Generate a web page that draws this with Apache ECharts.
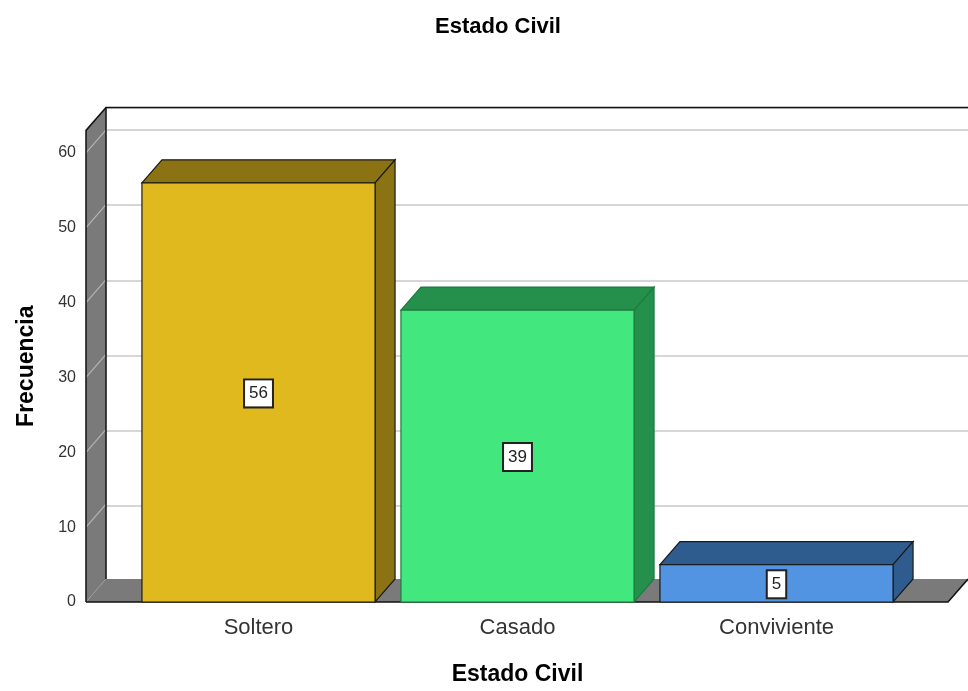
<!DOCTYPE html>
<html>
<head>
<meta charset="utf-8">
<script src="https://cdn.jsdelivr.net/npm/echarts@6/dist/echarts.min.js"></script>
<style>html,body{margin:0;padding:0;background:#fff}#c{width:968px;height:691px}</style>
</head>
<body>
<div id="c"></div>
<script>
// ---- data ----
const categories = ['Soltero', 'Casado', 'Conviviente'];
const frequencies = [56, 39, 5];
const yTicks = [0, 10, 20, 30, 40, 50, 60];
const chartTitle = 'Estado Civil';
const xTitle = 'Estado Civil';
const yTitle = 'Frecuencia';

// ---- styles ----
const FONT = "'Liberation Sans', Arial, sans-serif";
const frontColors = ['#E0B91F', '#42E87D', '#5294E2'];
const darkColors = ['#8B7314', '#25904C', '#2F5C8F'];
const edgeColors = ['#1a1a1a', '#1E7A40', '#1a1a1a'];
const DX = 20, DY = 23;           // depth offset of the 3D box
const YMAX = 63;
const WALL = '#7A7A7A';

const chart = echarts.init(document.getElementById('c'), null, {renderer: 'canvas'});

const option = {
  animation: false,
  backgroundColor: '#fff',
  title: {
    text: chartTitle, left: 493, top: 11, textAlign: 'center',
    textStyle: {fontFamily: FONT, fontSize: 22, fontWeight: 'bold', color: '#000'}
  },
  grid: [
    {left: 129, right: 62, top: 130.4, bottom: 87},        // front plane (bars)
    {left: 106, right: 0, top: 107.4, bottom: 110}         // back wall (gridlines)
  ],
  xAxis: [
    {
      type: 'category', gridIndex: 0, data: categories,
      axisLine: {show: false}, axisTick: {show: false},
      axisLabel: {fontFamily: FONT, fontSize: 22, color: '#333', margin: 15},
      name: xTitle, nameLocation: 'middle', nameGap: 61,
      nameTextStyle: {fontFamily: FONT, fontSize: 23, fontWeight: 'bold', color: '#000'}
    },
    {type: 'category', gridIndex: 1, data: categories, show: false}
  ],
  yAxis: [
    {
      type: 'value', gridIndex: 0, min: 0, max: YMAX, interval: 10, offset: 43,
      axisLine: {show: false}, axisTick: {show: false}, splitLine: {show: false},
      axisLabel: {fontFamily: FONT, fontSize: 16, color: '#333', margin: 10, showMaxLabel: false,
        formatter: v => (yTicks.indexOf(v) >= 0 ? String(v) : '')},
      name: yTitle, nameLocation: 'middle', nameGap: 48, nameRotate: 90,
      nameTextStyle: {fontFamily: FONT, fontSize: 23, fontWeight: 'bold', color: '#000'}
    },
    {
      type: 'value', gridIndex: 1, min: 0, max: YMAX, interval: 10,
      axisLine: {show: false}, axisTick: {show: false}, axisLabel: {show: false},
      splitLine: {show: true, lineStyle: {color: '#C8C8C8', width: 1.5}}
    }
  ],
  series: [{
    type: 'custom', xAxisIndex: 0, yAxisIndex: 0, z: 5,
    data: frequencies.map((v, i) => [i, v]),
    renderItem: function (params, api) {
      const i = api.value(0), v = api.value(1);
      const top = api.coord([i, v]);
      const bot = api.coord([i, 0]);
      const mid = api.coord([i, v / 2]);
      const w = api.size([1, 0])[0] * 0.9;
      const x0 = top[0] - w / 2, x1 = top[0] + w / 2;
      const ty = top[1], by = bot[1];
      const edge = edgeColors[i];
      return {
        type: 'group',
        children: [
          {type: 'polygon', shape: {points: [[x0, ty], [x0 + DX, ty - DY], [x1 + DX, ty - DY], [x1, ty]]},
            style: {fill: darkColors[i], stroke: edge, lineWidth: 1.2}},
          {type: 'polygon', shape: {points: [[x1, ty], [x1 + DX, ty - DY], [x1 + DX, by - DY], [x1, by]]},
            style: {fill: darkColors[i], stroke: edge, lineWidth: 1.2}},
          {type: 'rect', shape: {x: x0, y: ty, width: w, height: by - ty},
            style: {fill: frontColors[i], stroke: edge, lineWidth: 1.2}},
          {type: 'text', x: top[0], y: mid[1] + 1,
            style: {text: String(v), align: 'center', verticalAlign: 'middle',
              fontFamily: FONT, fontSize: 17, fill: '#222',
              backgroundColor: '#fff', borderColor: '#222', borderWidth: 2, padding: [5, 4, 4, 4]}}
        ]
      };
    }
  }]
};
chart.setOption(option);

// ---- 3D walls / floor computed from the axes ----
const yPix = v => chart.convertToPixel({yAxisIndex: 0}, v);
const y0 = yPix(0), yTop = yPix(YMAX);
const FL = 86, FR = 948;   // front floor extent
const g = [];
// left wall
g.push({type: 'polygon', z: 1, shape: {points: [[FL, y0], [FL, yTop], [FL + DX, yTop - DY], [FL + DX, y0 - DY]]},
  style: {fill: WALL}});
// floor
g.push({type: 'polygon', z: 1, shape: {points: [[FL, y0], [FL + DX, y0 - DY], [FR + DX, y0 - DY], [FR, y0]]},
  style: {fill: WALL}});
// diagonals on left wall at tick levels
yTicks.forEach(v => {
  if (v === 0) return;
  const y = yPix(v);
  g.push({type: 'line', z: 2, shape: {x1: FL, y1: y, x2: FL + DX, y2: y - DY},
    style: {stroke: '#B5B5B5', lineWidth: 1.2}});
});
g.push({type: 'line', z: 2, shape: {x1: FL, y1: y0, x2: FL + DX, y2: y0 - DY}, style: {stroke: '#9a9a9a', lineWidth: 1}});
// outlines
const blk = {stroke: '#111', lineWidth: 1.5};
g.push({type: 'polyline', z: 3, shape: {points: [[FL, y0], [FL, yTop], [FL + DX, yTop - DY], [968, yTop - DY]]}, style: Object.assign({fill: null}, blk)});
g.push({type: 'line', z: 3, shape: {x1: FL + DX, y1: yTop - DY, x2: FL + DX, y2: y0 - DY}, style: blk});
g.push({type: 'polyline', z: 3, shape: {points: [[FL, y0], [FR, y0], [FR + DX, y0 - DY]]}, style: Object.assign({fill: null}, blk)});
chart.setOption({graphic: g});
</script>
</body>
</html>
